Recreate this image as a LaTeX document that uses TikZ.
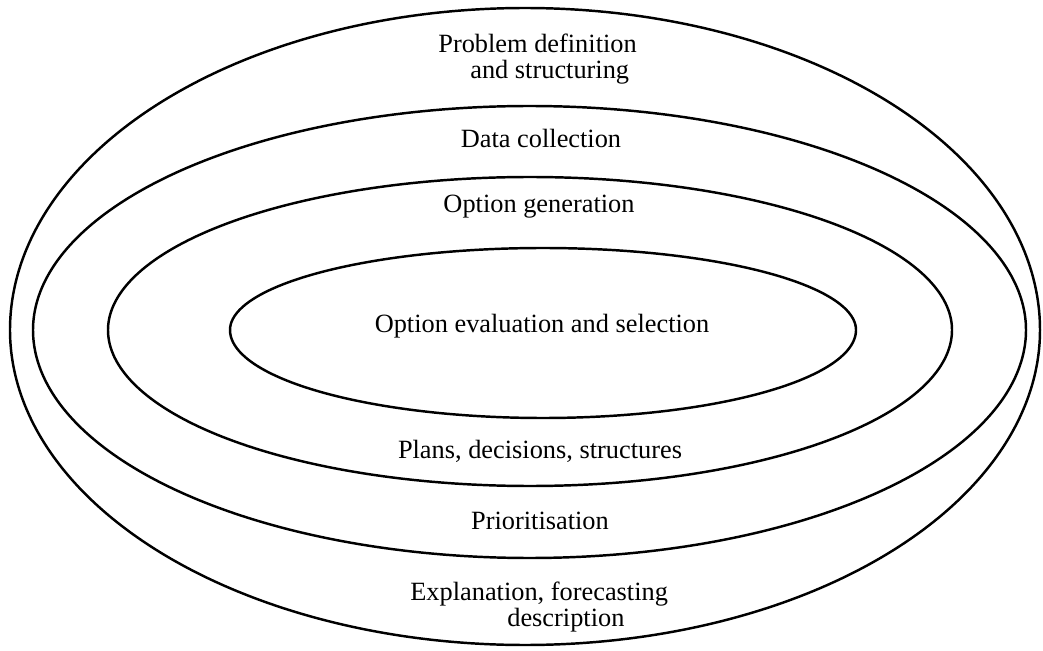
\documentclass[tikz,border=0pt]{standalone}
\usepackage{fontspec}
\setmainfont{Liberation Serif}
\begin{document}
\begin{tikzpicture}[x=0.02cm,y=-0.02cm,
  ring/.style={line width=1.4pt, line join=round},
  lbl/.style={font=\fontsize{15}{14.8}\selectfont, inner sep=0pt, anchor=base}]
\useasboundingbox (0,0) rectangle (1043,651);
% ring: centre x, centre y, x radius, top radius, bottom radius
\newcommand{\ovalring}[5]{%
  \draw[ring] plot[domain=0:360, samples=181, smooth]
    ({#1+#3*cos(\x)}, {#2-((\x<180)*#4+(\x>=180)*#5)*sin(\x)}) -- cycle;}
\ovalring{525}{330}{515}{322}{315}
\ovalring{529.5}{330}{496.5}{224}{228}
\ovalring{530}{330}{422}{153}{156}
\ovalring{543}{330}{313}{82}{88}
% labels
\node[lbl, anchor=base west, align=left] (pd) at (438,79)
  {Problem definition\\\hspace*{0.64cm}and structuring};
\node[lbl] (dc) at (541,148) {Data collection};
\node[lbl] (og) at (539,213) {Option generation};
\node[lbl] (oe) at (542,333) {Option evaluation and selection};
\node[lbl] (pl) at (540,458) {Plans, decisions, structures};
\node[lbl] (pr) at (540,529) {Prioritisation};
\node[lbl, anchor=base west, align=left] (ex) at (410,626)
  {Explanation, forecasting\\\hspace*{1.94cm}description};
\end{tikzpicture}
\end{document}
